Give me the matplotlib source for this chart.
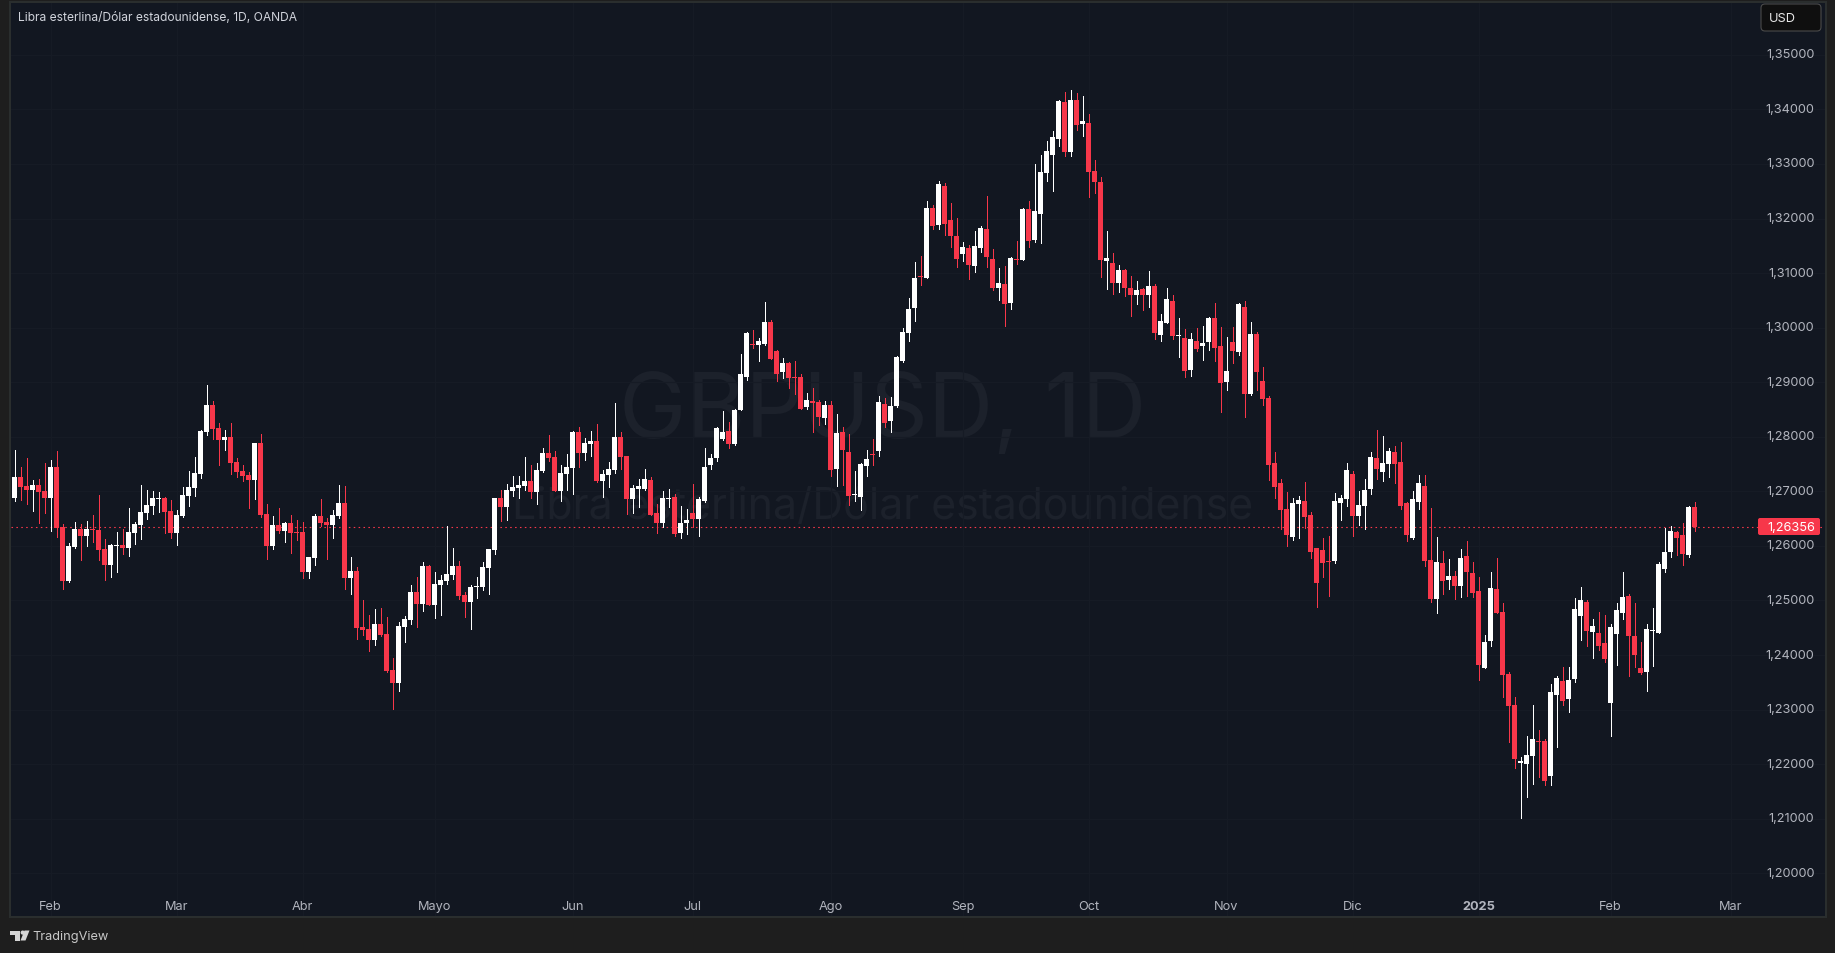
import matplotlib
matplotlib.use("Agg")
import matplotlib.pyplot as plt
from matplotlib.patches import Rectangle, FancyBboxPatch, Polygon, Circle
from matplotlib.transforms import ScaledTranslation
import numpy as np

# Prices in units of 0.0001 (GBP/USD daily candles)
opens_pips = [
12688,12726,12710,12702,12711,12700,12688,12744,12634,12535,
12598,12631,12618,12631,12629,12594,12565,12600,12601,12596,
12623,12638,12660,12673,12686,12688,12664,12623,12655,12691,
12706,12732,12809,12858,12816,12794,12799,12754,12737,12730,
12721,12788,12658,12600,12638,12627,12642,12625,12625,12552,
12578,12655,12644,12638,12655,12678,12541,12554,12451,12447,
12427,12457,12438,12372,12348,12451,12464,12515,12493,12563,
12491,12528,12535,12546,12563,12510,12497,12524,12524,12559,
12592,12688,12671,12700,12706,12710,12719,12699,12737,12770,
12763,12700,12732,12743,12808,12770,12786,12792,12719,12730,
12739,12799,12765,12686,12704,12704,12721,12660,12642,12686,
12689,12623,12642,12660,12649,12682,12748,12761,12796,12810,
12786,12849,12909,12970,12968,12970,13010,12957,12918,12935,
12909,12909,12854,12865,12864,12834,12858,12741,12809,12772,
12693,12689,12746,12768,12774,12860,12829,12857,12939,12990,
13036,13095,13091,13219,13188,13259,13197,13168,13135,13146,
13113,13146,13181,13126,13072,13080,13045,13126,13124,13217,
13161,13208,13283,13316,13346,13413,13322,13417,13373,13375,
13287,13267,13122,13118,13082,13106,13073,13060,13071,13060,
13076,12986,13008,13049,12984,12981,12922,12975,12966,12973,
13017,12966,12900,12973,12955,13038,12878,12988,12902,12871,
12752,12715,12667,12616,12677,12682,12656,12596,12592,12572,
12572,12678,12686,12732,12655,12673,12704,12761,12735,12750,
12772,12754,12678,12614,12680,12710,12574,12502,12568,12537,
12545,12526,12581,12550,12517,12376,12425,12521,12479,12365,
12308,12202,12200,12215,12242,12242,12178,12326,12352,12319,
12356,12472,12497,12443,12441,12422,12312,12439,12477,12509,
12435,12377,12369,12444,12441,12558,12589,12626,12620,12584,12672]

closes_pips = [
12726,12708,12702,12711,12699,12688,12744,12633,12535,12600,
12631,12618,12631,12629,12592,12565,12601,12601,12596,12625,
12640,12662,12675,12688,12688,12662,12623,12656,12693,12708,
12733,12810,12858,12814,12794,12799,12752,12735,12728,12721,
12788,12656,12600,12638,12627,12642,12623,12623,12552,12579,
12655,12642,12638,12656,12678,12541,12554,12449,12446,12427,
12457,12436,12370,12348,12453,12466,12515,12493,12563,12491,
12530,12537,12548,12563,12508,12497,12524,12526,12561,12594,
12688,12671,12702,12708,12711,12719,12699,12739,12770,12761,
12700,12733,12744,12808,12770,12788,12792,12719,12732,12741,
12799,12763,12686,12706,12710,12722,12656,12642,12688,12688,
12622,12642,12647,12649,12686,12744,12761,12816,12809,12786,
12849,12915,12990,12968,12975,13010,12942,12915,12935,12907,
12907,12851,12867,12862,12836,12858,12739,12807,12775,12691,
12695,12750,12759,12766,12864,12825,12857,12946,12992,13034,
13091,13093,13219,13186,13263,13190,13168,13126,13148,13115,
13149,13182,13129,13072,13082,13043,13127,13124,13217,13159,
13214,13285,13324,13349,13415,13322,13417,13371,13379,13285,
13267,13124,13128,13082,13106,13073,13060,13069,13060,13076,
12990,13012,13052,12985,12986,12920,12979,12961,12972,13017,
12962,12898,12920,12957,13043,12878,12988,12919,12869,12748,
12708,12666,12620,12678,12684,12653,12589,12532,12568,12570,
12682,12688,12739,12655,12675,12702,12763,12741,12752,12774,
12750,12673,12620,12686,12715,12572,12502,12570,12535,12545,
12526,12578,12552,12513,12381,12424,12523,12477,12363,12306,
12209,12205,12216,12246,12240,12169,12332,12358,12315,12354,
12485,12501,12444,12454,12417,12393,12452,12483,12507,12435,
12400,12367,12448,12446,12567,12589,12628,12615,12586,12672,12635.6]

highs_pips = [
12775,12744,12761,12721,12722,12752,12757,12774,12640,12605,
12644,12640,12645,12656,12693,12612,12603,12625,12631,12669,
12644,12711,12702,12700,12699,12689,12684,12666,12708,12737,
12763,12812,12895,12865,12825,12812,12825,12761,12748,12735,
12788,12805,12677,12655,12669,12644,12656,12647,12644,12579,
12658,12686,12651,12666,12711,12710,12579,12561,12501,12473,
12484,12486,12469,12394,12460,12471,12528,12543,12570,12565,
12552,12546,12636,12596,12572,12515,12528,12543,12570,12594,
12688,12702,12713,12728,12728,12763,12748,12752,12779,12803,
12774,12748,12768,12810,12818,12798,12810,12823,12739,12754,
12862,12809,12765,12711,12722,12741,12726,12677,12700,12704,
12695,12673,12667,12713,12689,12779,12768,12818,12847,12827,
12851,12951,12992,12995,12981,13047,13014,12959,12944,12937,
12939,12915,12880,12889,12867,12865,12865,12841,12818,12805,
12737,12752,12775,12796,12875,12871,12873,12948,12999,13054,
13120,13131,13232,13225,13269,13265,13228,13201,13157,13151,
13177,13186,13241,13144,13109,13113,13129,13159,13219,13232,
13300,13316,13342,13360,13417,13432,13435,13430,13424,13391,
13307,13276,13177,13137,13115,13107,13095,13085,13073,13104,
13080,13025,13072,13060,13017,12997,12990,12999,13003,13019,
13045,13001,12983,13001,13045,13049,13010,12992,12928,12875,
12772,12722,12699,12688,12691,12717,12662,12596,12614,12618,
12697,12693,12752,12737,12700,12722,12772,12812,12801,12779,
12783,12790,12680,12700,12730,12730,12669,12616,12590,12576,
12554,12594,12609,12570,12543,12436,12552,12578,12495,12369,
12323,12213,12251,12308,12262,12246,12347,12361,12378,12378,
12505,12525,12501,12466,12479,12474,12457,12496,12553,12512,
12496,12424,12457,12486,12571,12633,12637,12628,12642,12674,12681]

lows_pips = [
12682,12684,12677,12664,12642,12660,12627,12616,12521,12534,
12596,12574,12600,12607,12574,12537,12543,12552,12585,12581,
12603,12612,12649,12658,12662,12623,12614,12601,12653,12673,
12691,12724,12803,12796,12748,12775,12732,12726,12719,12669,
12686,12653,12576,12594,12623,12607,12587,12611,12541,12541,
12565,12636,12576,12614,12651,12521,12512,12429,12436,12407,
12418,12435,12369,12301,12334,12424,12457,12451,12480,12491,
12468,12473,12530,12539,12502,12469,12447,12504,12519,12512,
12585,12645,12647,12691,12688,12702,12688,12677,12735,12755,
12700,12682,12702,12695,12744,12757,12764,12717,12689,12708,
12733,12741,12658,12660,12671,12702,12656,12623,12634,12671,
12618,12614,12622,12634,12618,12680,12741,12755,12794,12779,
12785,12849,12904,12962,12939,12968,12942,12902,12907,12889,
12878,12851,12851,12809,12821,12823,12728,12710,12711,12675,
12682,12666,12728,12748,12765,12818,12809,12855,12937,12975,
13012,13078,13091,13181,13181,13170,13148,13111,13122,13089,
13102,13138,13111,13069,13050,13003,13034,13117,13124,13148,
13157,13155,13269,13250,13333,13315,13315,13362,13351,13239,
13247,13093,13071,13062,13065,13058,13021,13043,13032,13038,
12979,12975,13008,12979,12946,12909,12911,12957,12940,12959,
12939,12845,12886,12935,12950,12836,12876,12886,12858,12721,
12688,12631,12600,12611,12614,12633,12578,12488,12543,12508,
12568,12647,12673,12618,12638,12631,12695,12722,12719,12726,
12715,12667,12609,12612,12667,12563,12497,12477,12512,12521,
12502,12506,12508,12506,12354,12376,12416,12477,12323,12240,
12193,12101,12139,12163,12176,12161,12161,12231,12308,12295,
12351,12428,12417,12395,12410,12388,12252,12382,12466,12362,
12378,12366,12334,12380,12441,12553,12580,12584,12565,12580,12628]

price_ticks = [1.20, 1.21, 1.22, 1.23, 1.24, 1.25, 1.26, 1.27, 1.28, 1.29,
               1.30, 1.31, 1.32, 1.33, 1.34, 1.35]
month_positions = [6, 27, 48, 70, 93, 113, 136, 158, 179, 202, 223, 244, 266, 286]
month_labels = ["Feb", "Mar", "Abr", "Mayo", "Jun", "Jul", "Ago", "Sep", "Oct",
                "Nov", "Dic", "2025", "Feb", "Mar"]
last_price = 1.26356
title_text = "Libra esterlina/Dólar estadounidense, 1D, OANDA"
symbol_text = "GBPUSD, 1D"
name_text = "Libra esterlina/Dólar estadounidense"

opens = np.array(opens_pips) / 1e4
closes = np.array(closes_pips) / 1e4
highs = np.array(highs_pips) / 1e4
lows = np.array(lows_pips) / 1e4
assert len(opens) == len(closes) == len(highs) == len(lows) == 281

W, H = 1835, 954
FRAME = "#1E1E1E"
PANEL = "#121721"
GRID = "#161B25"
RED = "#F7374A"
WHITE = "#FFFFFF"
TICK = "#B2B5BE"

plt.rcParams["font.family"] = ["Inter", "DejaVu Sans"]
fig = plt.figure(figsize=(W / 100, H / 100), dpi=100, facecolor=FRAME)

# axes placed in pixel terms
PX_L, PX_R, PX_T, PX_B = 11, 1825, 3, 917
ax = fig.add_axes([PX_L / W, 1 - PX_B / H, (PX_R - PX_L) / W, (PX_B - PX_T) / H], facecolor=PANEL)
STEP, X0, Y_REF, Y_SCALE = 6.0, 14.5, 527.5, 5457.0
ax.set_xlim((PX_L - X0) / STEP, (PX_R - X0) / STEP)
ax.set_ylim(last_price + (Y_REF - PX_B) / Y_SCALE, last_price + (Y_REF - PX_T) / Y_SCALE)

for s in ax.spines.values():
    s.set_visible(False)

# ticks and grid
ax.set_xticks(month_positions)
ax.set_xticklabels(month_labels)
ax.set_yticks(price_ticks)
ax.set_yticklabels([f"{t:.5f}".replace(".", ",") for t in price_ticks])
ax.yaxis.tick_right()
ax.xaxis.tick_bottom()
ax.grid(True, color=GRID, linewidth=0.75, zorder=0)
ax.set_axisbelow(True)
ax.tick_params(axis="y", length=0, pad=-7.6, labelsize=9.2, labelcolor=TICK)
ax.tick_params(axis="x", length=0, pad=-11.4, labelsize=9.2, labelcolor=TICK)
off_y = ScaledTranslation(0, 2.0 / 100, fig.dpi_scale_trans)
for lab in ax.get_yticklabels():
    lab.set_ha("right")
    lab.set_transform(lab.get_transform() + off_y)
ax.get_xticklabels()[month_labels.index("2025")].set_fontweight("bold")

# watermark
ax.text(0.4805, 1 - (414 - PX_T) / (PX_B - PX_T), symbol_text, transform=ax.transAxes,
        ha="center", va="center", fontsize=65, color="#1C212B", zorder=0.5)
ax.text(0.4805, 1 - (507 - PX_T) / (PX_B - PX_T), name_text, transform=ax.transAxes,
        ha="center", va="center", fontsize=30.8, color="#1C212B", zorder=0.5)

# last-price line
ax.axhline(last_price, color=RED, linewidth=0.8, linestyle=(0, (1.4, 3.0)), zorder=1)

# candles
x = np.arange(len(opens))
up = closes >= opens
tops = np.maximum(opens, closes)
bots = np.minimum(opens, closes)
colors = np.where(up, WHITE, RED)
ax.vlines(x, lows, highs, colors=colors, linewidth=0.72, zorder=2, antialiased=False)
ax.bar(x, np.maximum(tops - bots, 1 / Y_SCALE), bottom=bots, width=5 / STEP, color=colors,
       linewidth=0, zorder=3, antialiased=False)

# pixel-space overlay for the chrome
ov = fig.add_axes([0, 0, 1, 1], facecolor="none")
ov.set_xlim(0, W)
ov.set_ylim(H, 0)
ov.axis("off")
BORDER = "#2A2E2E"
ov.add_patch(Rectangle((9, 2), 2, 916, color=BORDER, lw=0))
ov.add_patch(Rectangle((9, 917), 1816, 2, color=BORDER, lw=0))
ov.add_patch(Rectangle((1825, 2), 2, 917, color=BORDER, lw=0))
ov.add_patch(Rectangle((9, 2), 1818, 1.5, color=BORDER, lw=0))

ov.text(17.5, 18, title_text, ha="left", va="center", fontsize=8.67, color="#D1D4DC")

# USD button
ov.add_patch(FancyBboxPatch((1764, 8), 54, 21, boxstyle="round,pad=3,rounding_size=4",
                            facecolor="#0F0F0F", edgecolor="#4A4A4A", linewidth=0.8))
ov.text(1769, 19, "USD", ha="left", va="center", fontsize=9.2, color="#E6E6E6")

# last-price tag
ov.add_patch(FancyBboxPatch((1759, 520), 60, 15, boxstyle="round,pad=1,rounding_size=2",
                            facecolor=RED, edgecolor="none"))
ov.text(1815, 527.6, f"{last_price:.5f}".replace(".", ","), ha="right", va="center",
        fontsize=9.2, color="#FFFFFF")

# TradingView logo + name
LOGO = "#D6D6D6"
ov.add_patch(Polygon([(10, 931.5), (20, 931.5), (20, 941.5), (15, 941.5), (15, 936), (10, 936)], color=LOGO, lw=0))
ov.add_patch(Circle((22.7, 933.6), 2.1, color=LOGO, lw=0))
ov.add_patch(Polygon([(24.5, 931.5), (29.5, 931.5), (25.5, 941.5), (20.5, 941.5)], color=LOGO, lw=0))
ov.text(32.5, 937.3, "TradingView", ha="left", va="center", fontsize=9.2, color="#C8C8C8")

fig.savefig("out.png", dpi=100, facecolor=FRAME)
